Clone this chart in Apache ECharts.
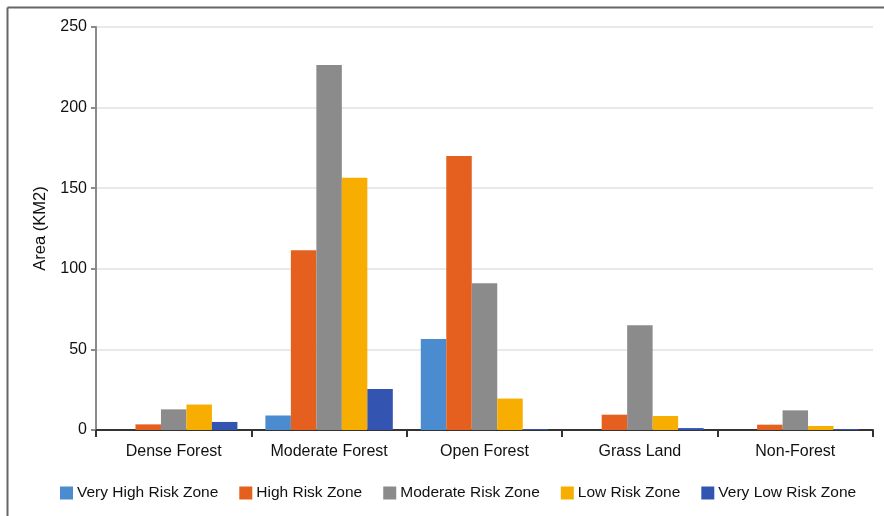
<!DOCTYPE html>
<html>
<head>
<meta charset="utf-8">
<script src="https://cdn.jsdelivr.net/npm/echarts@6/dist/echarts.min.js"></script>
<style>
html,body{margin:0;padding:0;background:#fff;}
#c{width:884px;height:516px;}
</style>
</head>
<body>
<div id="c"></div>
<script>
const categories = ['Dense Forest', 'Moderate Forest', 'Open Forest', 'Grass Land', 'Non-Forest'];
const seriesNames = ['Very High Risk Zone', 'High Risk Zone', 'Moderate Risk Zone', 'Low Risk Zone', 'Very Low Risk Zone'];
const veryHigh = [0, 9, 56.5, 0, 0];
const high = [3.5, 111.5, 170, 9.5, 3.3];
const moderate = [12.8, 226.5, 91, 65, 12.2];
const low = [15.8, 156.5, 19.5, 8.7, 2.5];
const veryLow = [5, 25.5, 0.6, 1.2, 0.6];
const yTicks = [0, 50, 100, 150, 200, 250];

const colors = ['#4a8ccf', '#e5601e', '#8b8b8b', '#f7ae00', '#3355b1'];
const values = [veryHigh, high, moderate, low, veryLow];
const font = 'Liberation Sans, Arial, Helvetica, sans-serif';

const chart = echarts.init(document.getElementById('c'), null, {renderer: 'canvas'});
chart.setOption({
  animation: false,
  backgroundColor: '#fff',
  color: colors,
  textStyle: {fontFamily: font},
  grid: {left: 96, right: 11, top: 27, bottom: 86, containLabel: false},
  legend: {
    left: 55, top: 480,
    itemWidth: 13, itemHeight: 13, itemGap: 21,
    icon: 'rect',
    textStyle: {fontSize: 15.5, color: '#111', fontFamily: font, padding: [0, 0, 0, -1]},
    data: seriesNames
  },
  xAxis: {
    type: 'category',
    data: categories,
    axisLine: {show: true, lineStyle: {color: '#333', width: 2}},
    axisTick: {show: true, length: 7, lineStyle: {color: '#333', width: 2}},
    axisLabel: {color: '#111', fontSize: 16, margin: 14, fontFamily: font},
    splitLine: {show: false}
  },
  yAxis: {
    type: 'value',
    min: yTicks[0], max: yTicks[yTicks.length - 1], interval: 50,
    name: 'Area (KM2)',
    nameLocation: 'middle',
    nameGap: 47,
    nameTextStyle: {fontSize: 16.5, color: '#111', fontFamily: font},
    axisLine: {show: true, lineStyle: {color: '#8a8a8a', width: 2}},
    axisTick: {show: true, length: 5, lineStyle: {color: '#8a8a8a', width: 2}},
    axisLabel: {color: '#111', fontSize: 16, margin: 9, fontFamily: font},
    splitLine: {show: true, lineStyle: {color: '#e2e2e2', width: 1.5}}
  },
  series: seriesNames.map((n, i) => ({
    name: n,
    type: 'bar',
    data: values[i],
    barGap: '0%',
    barCategoryGap: '18%',
    itemStyle: {color: colors[i]}
  })),
  graphic: [
    {type: 'line', shape: {x1: 7.5, y1: 7.5, x2: 884, y2: 7.5}, style: {stroke: '#666', lineWidth: 2}, silent: true},
    {type: 'line', shape: {x1: 7.5, y1: 7.5, x2: 7.5, y2: 516}, style: {stroke: '#666', lineWidth: 2}, silent: true}
  ]
});
</script>
</body>
</html>
